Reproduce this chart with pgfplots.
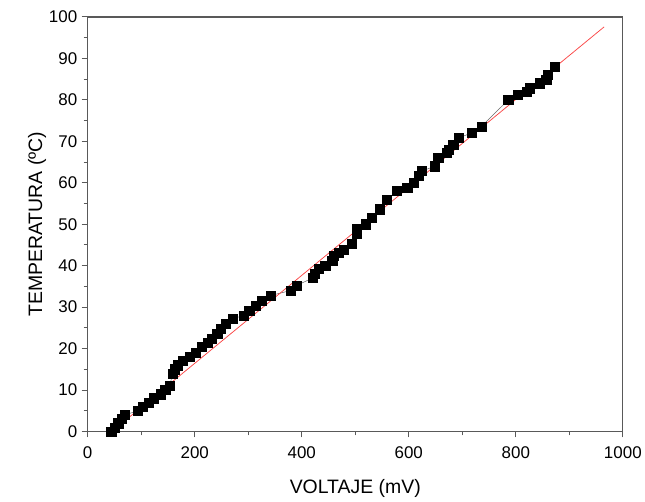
\documentclass[border=0pt]{standalone}
\usepackage{fontspec}
\setmainfont{Liberation Sans}
\usepackage{pgfplots}
\pgfplotsset{compat=1.18}
\definecolor{ajuste}{RGB}{250,70,70}

\begin{document}
\begin{tikzpicture}
\begin{axis}[
    scale only axis,
    width=537pt,
    height=416pt,
    xmin=0, xmax=1000,
    ymin=0, ymax=100,
    xtick={0,200,...,1000},
    ytick={0,10,...,100},
    minor x tick num=1,
    minor y tick num=1,
    tick pos=left,
    tick align=outside,
    major tick length=6pt,
    minor tick length=4pt,
    axis line style={black!65, line width=1.3pt},
    every tick/.style={black!65, line width=1pt},
    tick label style={font=\fontsize{17}{19}\selectfont},
    xticklabel style={yshift=-6pt},
    yticklabel style={xshift=-1pt},
    label style={font=\fontsize{19.5}{22}\selectfont},
    /pgf/number format/assume math mode=true,
    /pgf/number format/1000 sep={},
    xlabel={VOLTAJE (mV)},
    ylabel={TEMPERATURA (ºC)},
    xlabel style={yshift=-14pt},
    ylabel style={yshift=-4pt},
    clip=false,
]
% mediciones
\addplot[black!60, line width=0.5pt, mark=square*, mark size=4.6pt,
         mark options={black, solid}] coordinates {
    (44,0) (50,1) (57,2) (63,3) (69,4)
    (94,5) (103,6) (114,7) (124,8) (137,9) (145,10) (153,11)
    (159,14) (162,15) (168,16) (178,17) (191,18) (202,19) (213,20.5)
    (224,21.5) (232,22.4) (242,23.6) (249,24.8) (258,26) (271,27.2)
    (292,28) (302,29.2) (314,30.4) (326,31.6) (342,32.8)
    (379,34) (390,35.2)
    (420,37) (425,38) (432,39.2) (444,40) (457,41.2) (460,42.4)
    (469,43.2) (479,43.8) (494,45.2) (503,47.6) (503,48.8)
    (519,50) (531,51.6) (545,53.6) (559,56)
    (578,58) (597,58.8) (609,60) (618,61.6) (624,62.8)
    (649,64) (655,66) (671,67.2) (674,68) (683,69.2) (693,70.8)
    (717,72) (736,73.6)
    (786,80) (804,81.2) (820,82) (826,82.8) (845,84) (857,84.9)
    (860,86) (872,88)
};
% ajuste lineal
\addplot[ajuste, line width=0.75pt, mark=none] coordinates {
    (45,0) (965,97.6)
};
\path ([xshift=-88pt,yshift=-65pt]rel axis cs:0,0)
      ([xshift=20pt,yshift=17pt]rel axis cs:1,1);
\end{axis}
\end{tikzpicture}
\end{document}
